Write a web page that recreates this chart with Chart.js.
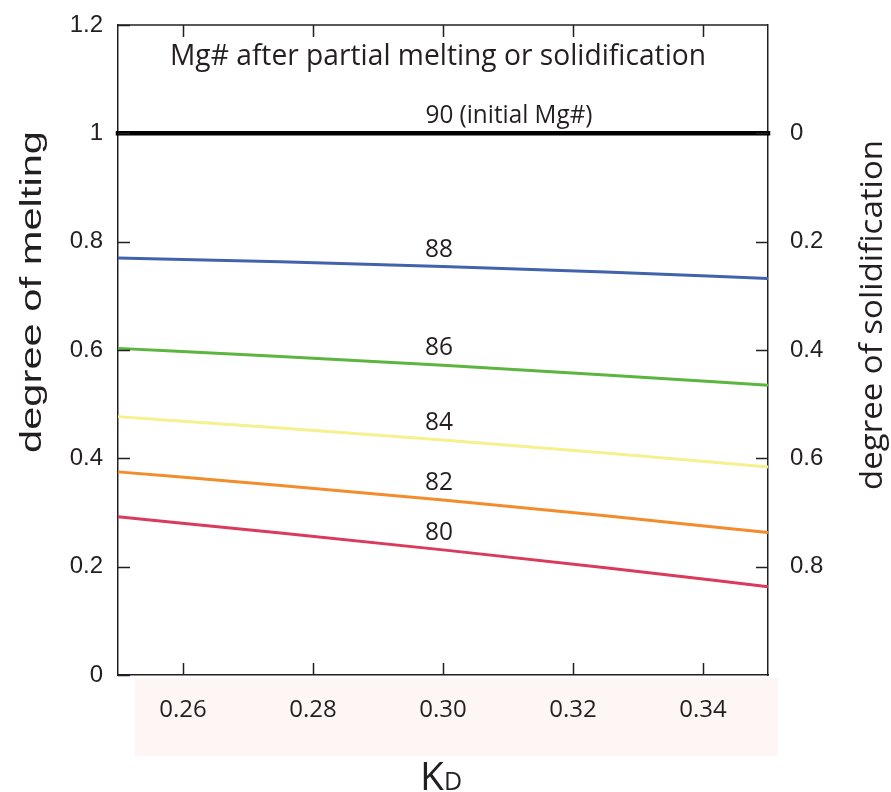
<!DOCTYPE html>
<html>
<head>
<meta charset="utf-8">
<script src="https://cdn.jsdelivr.net/npm/chart.js@4.4.1/dist/chart.umd.min.js"></script>
<style>
  html, body { margin: 0; padding: 0; background: #fff; }
  #wrap { width: 891px; height: 792px; position: relative; }
</style>
</head>
<body>
<div id="wrap"><canvas id="c"></canvas></div>
<script>
// K_D values at which each curve is evaluated
const kd = [0.25, 0.275, 0.30, 0.325, 0.35];

// Degree of melting that leaves the residue at a given Mg#
const mg90 = [1, 1, 1, 1, 1];
const mg88 = [0.770, 0.763, 0.754, 0.744, 0.732];
const mg86 = [0.603, 0.588, 0.572, 0.554, 0.535];
const mg84 = [0.477, 0.456, 0.434, 0.410, 0.384];
const mg82 = [0.375, 0.350, 0.323, 0.294, 0.263];
const mg80 = [0.292, 0.262, 0.231, 0.198, 0.163];

const curveLabels = ['90 (initial Mg#)', '88', '86', '84', '82', '80'];

// Tick values
const xTicks = [0.26, 0.28, 0.30, 0.32, 0.34];
const yTicks = [0, 0.2, 0.4, 0.6, 0.8, 1.0, 1.2];
const y2Ticks = [0, 0.2, 0.4, 0.6, 0.8];

const INK = '#231f20';
const series = [mg90, mg88, mg86, mg84, mg82, mg80];
const colors = ['#000000', '#4262ae', '#5cb53f', '#f6f08e', '#f28c2c', '#da3a5c'];

const datasets = series.map((vals, i) => ({
  label: curveLabels[i],
  data: kd.map((x, j) => ({ x: x, y: vals[j] })),
  borderColor: colors[i],
  borderWidth: i === 0 ? 4.5 : 3,
  borderCapStyle: i === 0 ? 'square' : 'butt',
  clip: i === 0 ? 4 : 2,
  pointRadius: 0,
  cubicInterpolationMode: 'monotone',
  fill: false
}));

// Draw text squeezed/stretched to a given width
function fitText(ctx, text, x, y, font, width, align) {
  ctx.save();
  ctx.font = font;
  const w = ctx.measureText(text).width;
  const s = width / w;
  ctx.translate(x, y);
  ctx.scale(s, 1);
  ctx.textAlign = align || 'center';
  ctx.fillText(text, 0, 0);
  ctx.restore();
}

function fitTextRotated(ctx, text, cx, cy, font, length) {
  ctx.save();
  ctx.font = font;
  const w = ctx.measureText(text).width;
  ctx.translate(cx, cy);
  ctx.rotate(-Math.PI / 2);
  ctx.scale(length / w, 1);
  ctx.textAlign = 'center';
  ctx.textBaseline = 'middle';
  ctx.fillText(text, 0, 0);
  ctx.restore();
}

// keep the plot frame fixed regardless of label overhang
function noOverhang(s) {
  s.paddingTop = 0; s.paddingBottom = 0;
  s.paddingLeft = 0; s.paddingRight = 0;
}

const decor = {
  id: 'decor',
  beforeDraw(chart) {
    const { ctx, chartArea: a } = chart;
    ctx.save();
    ctx.fillStyle = '#fdf6f5';
    ctx.fillRect(a.left + 17, a.bottom + 3, a.right - a.left - 7, 78);
    ctx.restore();
  },
  afterDraw(chart) {
    const { ctx, chartArea: a, scales } = chart;
    const xs = scales.x, ys = scales.y, y2 = scales.y2;
    ctx.save();
    ctx.strokeStyle = INK;
    ctx.lineWidth = 1.5;
    // top frame line
    ctx.beginPath();
    ctx.moveTo(a.left, a.top);
    ctx.lineTo(a.right, a.top);
    ctx.stroke();
    // inward tick marks
    const L = 12;
    ctx.beginPath();
    xTicks.forEach(v => {
      const px = Math.round(xs.getPixelForValue(v)) + 0.5;
      ctx.moveTo(px, a.bottom); ctx.lineTo(px, a.bottom - L);
      ctx.moveTo(px, a.top); ctx.lineTo(px, a.top + L);
    });
    yTicks.forEach(v => {
      const py = Math.round(ys.getPixelForValue(v)) + 0.5;
      ctx.moveTo(a.left, py); ctx.lineTo(a.left + L, py);
    });
    y2Ticks.forEach(v => {
      const py = Math.round(y2.getPixelForValue(v)) + 0.5;
      ctx.moveTo(a.right, py); ctx.lineTo(a.right - L, py);
    });
    ctx.stroke();

    ctx.fillStyle = INK;
    ctx.textBaseline = 'alphabetic';
    // heading
    fitText(ctx, 'Mg# after partial melting or solidification', (a.left + a.right) / 2 - 5, 65,
      '30px "Open Sans"', 536);
    // curve labels, sitting just above each curve at K_D = 0.30
    const midIdx = kd.indexOf(0.30);
    series.forEach((vals, i) => {
      const py = ys.getPixelForValue(vals[midIdx]);
      if (i === 0) {
        fitText(ctx, curveLabels[i], xs.getPixelForValue(0.30) + 66, py - 10, '25px "Open Sans"', 167);
      } else {
        fitText(ctx, curveLabels[i], xs.getPixelForValue(0.30) - 4, py - 10, '25px "Open Sans"', 28);
      }
    });
    // axis titles
    fitTextRotated(ctx, 'degree of melting', 33, 292, '30px "Liberation Sans"', 322);
    fitTextRotated(ctx, 'degree of solidification', 873, 315, '31px "Open Sans"', 350);
    // K_D
    ctx.font = '39px "Open Sans"';
    ctx.textAlign = 'left';
    ctx.fillText('K', 420, 790);
    ctx.font = '25px "Open Sans"';
    ctx.fillText('D', 444, 790);
    ctx.restore();
  }
};

new Chart(document.getElementById('c'), {
  type: 'line',
  data: { datasets: datasets },
  options: {
    responsive: true,
    maintainAspectRatio: false,
    animation: false,
    layout: { padding: { top: 25, left: 0, right: 0, bottom: 0 } },
    plugins: { legend: { display: false }, tooltip: { enabled: false } },
    scales: {
      x: {
        type: 'linear', position: 'bottom', min: 0.25, max: 0.35,
        afterBuildTicks: s => { s.ticks = xTicks.map(v => ({ value: v })); },
        afterFit: s => { s.height = 117; noOverhang(s); },
        grid: { drawOnChartArea: false, drawTicks: false },
        border: { display: true, color: INK, width: 1.5 },
        ticks: {
          padding: 21, color: INK, maxRotation: 0,
          font: { family: 'Open Sans', size: 24 },
          callback: v => v.toFixed(2)
        }
      },
      y: {
        type: 'linear', position: 'left', min: 0, max: 1.2,
        afterBuildTicks: s => { s.ticks = yTicks.map(v => ({ value: v })); },
        afterFit: s => { s.width = 118; noOverhang(s); },
        grid: { drawOnChartArea: false, drawTicks: false },
        border: { display: true, color: INK, width: 1.5 },
        ticks: {
          padding: 15, color: INK,
          font: { family: 'Liberation Sans', size: 24 },
          callback: v => String(+v.toFixed(1))
        }
      },
      y2: {
        type: 'linear', position: 'right', min: -0.2, max: 1, reverse: true,
        afterBuildTicks: s => { s.ticks = y2Ticks.map(v => ({ value: v })); },
        afterFit: s => { s.width = 123; noOverhang(s); },
        grid: { drawOnChartArea: false, drawTicks: false },
        border: { display: true, color: INK, width: 1.5 },
        ticks: {
          padding: 22, color: INK,
          font: { family: 'Liberation Sans', size: 24 },
          callback: v => String(+v.toFixed(1))
        }
      }
    }
  },
  plugins: [decor]
});
</script>
</body>
</html>
